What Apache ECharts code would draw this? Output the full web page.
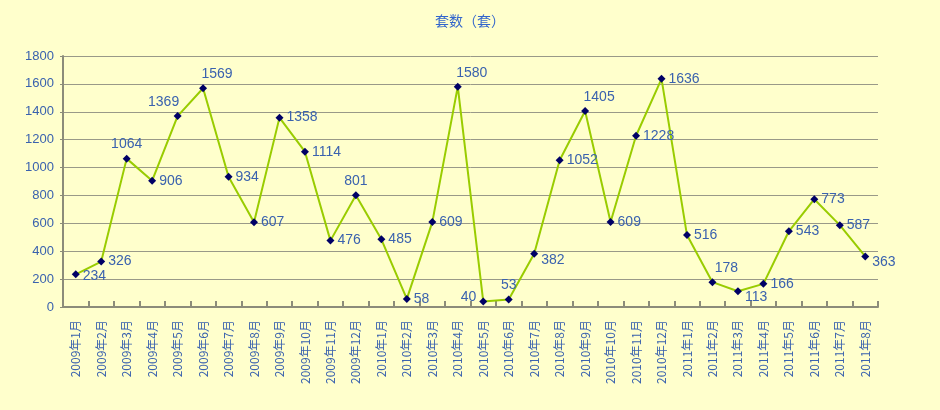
<!DOCTYPE html>
<html><head><meta charset="utf-8">
<script src="https://cdn.jsdelivr.net/npm/echarts@6/dist/echarts.min.js"></script>
<style>html,body{margin:0;padding:0;background:#FFFFCC;}#c{width:940px;height:410px;}</style>
</head><body><div id="c"></div>
<script>
var titleText = '套数（套）';
var categories = ['2009年1月','2009年2月','2009年3月','2009年4月','2009年5月','2009年6月','2009年7月','2009年8月','2009年9月','2009年10月','2009年11月','2009年12月','2010年1月','2010年2月','2010年3月','2010年4月','2010年5月','2010年6月','2010年7月','2010年8月','2010年9月','2010年10月','2010年11月','2010年12月','2011年1月','2011年2月','2011年3月','2011年4月','2011年5月','2011年6月','2011年7月','2011年8月'];
var values = [234,326,1064,906,1369,1569,934,607,1358,1114,476,801,485,58,609,1580,40,53,382,1052,1405,609,1228,1636,516,178,113,166,543,773,587,363];
var yTicks = [0,200,400,600,800,1000,1200,1400,1600,1800];

// label placement per point: [position, dx, dy]
var labelPlace = {
  0:['right',0,2], 2:['top',0,0], 4:['top',-14,0], 5:['top',14,0], 11:['top',0,0],
  15:['top',14,0], 16:['left',0,-4], 17:['top',0,0], 18:['right',0,6], 20:['top',14,0],
  25:['top',14,0], 26:['right',0,6], 31:['right',0,6]
};
var data = values.map(function(v,i){
  var p = labelPlace[i] || ['right',0,0];
  return {value:v, label:{position:p[0], offset:[p[1],p[2]]}};
});

var labelColor = '#3A62AE';
var chart = echarts.init(document.getElementById('c'));
chart.setOption({
  backgroundColor:'#FFFFCC',
  animation:false,
  title:{text:titleText,left:'center',top:9,textStyle:{color:'#3366CC',fontSize:14,fontWeight:'normal',fontFamily:'Noto Sans CJK SC'}},
  grid:{left:63,right:62,top:56,bottom:103},
  xAxis:{type:'category',data:categories,boundaryGap:true,
    axisLine:{lineStyle:{color:'#8C8C7A',width:2}},
    axisTick:{show:true,inside:true,length:6,lineStyle:{color:'#8C8C7A',width:2}},
    axisLabel:{rotate:90,interval:0,color:labelColor,fontSize:12,fontFamily:'Noto Sans CJK SC',margin:13}},
  yAxis:{type:'value',min:yTicks[0],max:yTicks[yTicks.length-1],interval:200,
    axisLine:{show:true,lineStyle:{color:'#8C8C7A',width:2}},
    axisTick:{show:true,length:3,lineStyle:{color:'#8C8C7A'}},
    splitLine:{lineStyle:{color:'#999988',width:1}},
    axisLabel:{color:labelColor,fontSize:13,fontFamily:'Liberation Sans',margin:9,formatter:function(v){return String(v);}}},
  series:[{type:'line',data:data,
    lineStyle:{color:'#99CC00',width:2},
    itemStyle:{color:'#000066'},
    symbol:'diamond',symbolSize:8,
    label:{show:true,color:labelColor,fontSize:14,fontFamily:'Liberation Sans',distance:3}}]
});
</script></body></html>
